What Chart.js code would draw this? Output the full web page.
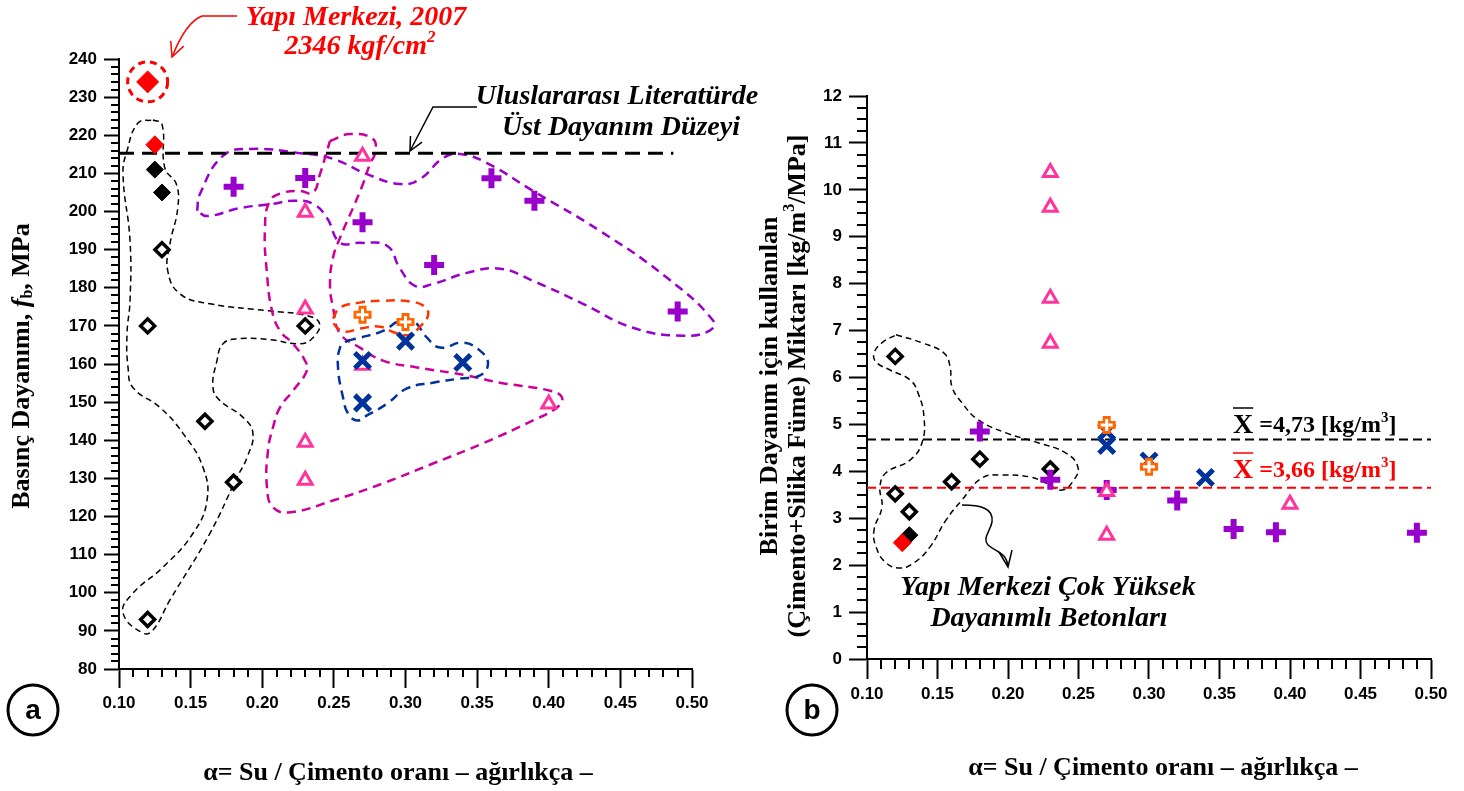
<!DOCTYPE html>
<html>
<head>
<meta charset="utf-8">
<script src="https://cdn.jsdelivr.net/npm/chart.js@4.4.1/dist/chart.umd.min.js"></script>
<style>
  html, body { margin: 0; padding: 0; background: #fff; }
  #kutuA { position: absolute; left: 0; top: 0; width: 800px; height: 791px; }
  #kutuB { position: absolute; left: 740px; top: 0; width: 724px; height: 791px; }
</style>
</head>
<body>
<div id="kutuA"><canvas id="grafikA" width="800" height="791"></canvas></div>
<div id="kutuB"><canvas id="grafikB" width="724" height="791"></canvas></div>
<script>
// ---- a) Basınç dayanımı verileri ----
const kirmiziA_x = [0.12, 0.125];
const kirmiziA_y = [234, 217.5];
const siyahDoluA_x = [0.125, 0.13];
const siyahDoluA_y = [211, 205];
const siyahBosA_x = [0.13, 0.12, 0.23, 0.16, 0.18, 0.12];
const siyahBosA_y = [190, 170, 170, 145, 129, 93];
const morA_x = [0.18, 0.23, 0.27, 0.32, 0.36, 0.39, 0.49];
const morA_y = [206.5, 208.8, 197.2, 186, 208.7, 202.8, 173.8];
const pembeA_x = [0.27, 0.23, 0.23, 0.27, 0.23, 0.23, 0.40];
const pembeA_y = [214.5, 199.8, 174.4, 159.7, 139.5, 129.5, 149.5];
const turuncuA_x = [0.27, 0.30];
const turuncuA_y = [172.9, 171];
const maviA_x = [0.30, 0.27, 0.34, 0.27];
const maviA_y = [166, 160.9, 160.4, 149.8];
const ustDuzey = 215.3;
const ustDuzeyBitis = 0.487;

// ---- b) Birim dayanım için malzeme miktarı ----
const kirmiziB_x = [0.125];
const kirmiziB_y = [2.48];
const siyahDoluB_x = [0.13];
const siyahDoluB_y = [2.64];
const siyahBosB_x = [0.12, 0.12, 0.13, 0.16, 0.18, 0.23];
const siyahBosB_y = [6.45, 3.52, 3.14, 3.78, 4.26, 4.05];
const morB_x = [0.18, 0.23, 0.27, 0.32, 0.36, 0.39, 0.49];
const morB_y = [4.85, 3.82, 3.6, 3.38, 2.77, 2.70, 2.69];
const pembeB_x = [0.23, 0.23, 0.23, 0.23, 0.27, 0.27, 0.40];
const pembeB_y = [10.37, 9.63, 7.69, 6.73, 3.57, 2.64, 3.30];
const turuncuB_x = [0.27, 0.30];
const turuncuB_y = [4.99, 4.10];
const maviB_x = [0.27, 0.27, 0.30, 0.34];
const maviB_y = [4.85, 4.55, 4.22, 3.87];
const ortalamaSiyah = 4.68;
const ortalamaKirmizi = 3.65;

// ---- eksen ve etiketler ----
const xEtiketleri = ["0.10", "0.15", "0.20", "0.25", "0.30", "0.35", "0.40", "0.45", "0.50"];

// ---- elle çizilmiş kesikli gruplar (veri koordinatlarında) ----
const grupSiyahA = [[0.1237,224.0],[0.130,222.9],[0.132,211.4],[0.140,207.2],[0.141,200.9],[0.1356,191.5],[0.134,184.5],[0.1426,178.4],[0.1635,175.8],[0.203,174.0],[0.231,172.7],[0.240,170.6],[0.2354,166.9],[0.2263,165.3],[0.2054,166.4],[0.1824,166.6],[0.1726,165.3],[0.1684,160.9],[0.1656,153.8],[0.1705,150.4],[0.1866,146.0],[0.1935,141.8],[0.1894,135.5],[0.1824,130.3],[0.1635,115.6],[0.1356,98.1],[0.1237,90.2],[0.1168,89.4],[0.1028,94.7],[0.1098,99.9],[0.1307,106.7],[0.1517,115.6],[0.1614,124.2],[0.1586,132.9],[0.1447,141.8],[0.1286,148.6],[0.1098,153.8],[0.1063,159.1],[0.1056,168.0],[0.1077,176.6],[0.1077,192.3],[0.1028,209.8],[0.1056,215.9],[0.1133,223.2]];
const grupMorA = [[0.1545,200.2],[0.1565,204.6],[0.1726,214.6],[0.1914,216.4],[0.2264,215.3],[0.2494,213.8],[0.2731,209.8],[0.2962,207.2],[0.3101,208.5],[0.3262,214.0],[0.3380,215.1],[0.3569,212.7],[0.3890,205.4],[0.4358,194.9],[0.4826,182.6],[0.5147,171.4],[0.5126,168.8],[0.4937,167.4],[0.4588,169.5],[0.4239,175.8],[0.3890,181.8],[0.3660,185.0],[0.3429,183.9],[0.3192,181.0],[0.3066,180.5],[0.2962,185.0],[0.2871,191.0],[0.2682,191.8],[0.2543,191.8],[0.2452,198.3],[0.2354,202.0],[0.2215,202.8],[0.2075,202.0],[0.1845,200.9],[0.1614,198.8]];
const grupPembeA = [[0.2473,218.5],[0.2613,220.3],[0.2773,219.0],[0.2787,215.3],[0.2752,212.5],[0.2703,207.2],[0.2633,200.9],[0.2543,193.1],[0.2494,187.9],[0.2473,181.0],[0.2494,174.8],[0.2543,168.0],[0.2682,164.3],[0.2843,160.9],[0.3080,159.1],[0.3429,157.0],[0.3660,155.1],[0.4009,153.0],[0.4093,151.2],[0.4058,148.6],[0.3890,145.2],[0.3541,139.2],[0.3192,133.9],[0.2843,128.7],[0.2494,124.2],[0.2194,121.1],[0.2075,122.4],[0.2033,127.6],[0.2040,137.3],[0.2075,143.4],[0.2124,148.6],[0.2215,153.0],[0.2312,158.3],[0.2298,160.9],[0.2215,165.3],[0.2124,168.7],[0.2068,174.0],[0.2033,183.7],[0.2019,195.7],[0.2054,202.8],[0.2145,204.9],[0.2264,205.4],[0.2354,204.9],[0.2403,209.8],[0.2452,215.9]];
const grupTuruncuA = [[0.2494,171.9],[0.2543,174.8],[0.2682,176.1],[0.2843,176.6],[0.3031,176.4],[0.3136,175.0],[0.3157,172.7],[0.3101,169.8],[0.3031,167.7],[0.2927,168.2],[0.2822,169.8],[0.2682,169.3],[0.2578,168.5],[0.2508,170.1]];
const grupMaviA = [[0.2592,166.1],[0.2682,166.9],[0.2843,168.7],[0.2962,171.4],[0.3052,171.4],[0.3150,166.9],[0.3241,164.3],[0.3401,165.6],[0.3520,163.5],[0.3576,160.1],[0.3520,157.0],[0.3380,156.2],[0.3192,155.1],[0.3010,153.6],[0.2871,149.6],[0.2731,146.5],[0.2661,145.2],[0.2599,147.0],[0.2564,151.2],[0.2529,159.1],[0.2543,164.3]];
const grupSiyahB = [[0.1206,6.91],[0.1390,6.74],[0.1546,6.52],[0.1589,6.23],[0.1603,5.80],[0.1674,5.46],[0.1787,5.10],[0.1986,4.82],[0.2213,4.61],[0.2411,4.39],[0.2496,4.09],[0.2468,3.82],[0.2383,3.60],[0.2270,3.75],[0.2156,3.88],[0.1957,3.92],[0.1816,3.86],[0.1674,3.39],[0.1560,2.96],[0.1447,2.39],[0.1333,2.05],[0.1234,1.94],[0.1135,2.05],[0.1064,2.39],[0.1050,2.75],[0.1106,3.24],[0.1092,3.67],[0.1135,3.97],[0.1305,4.24],[0.1390,4.61],[0.1404,5.16],[0.1362,5.67],[0.1305,5.95],[0.1163,6.16],[0.1064,6.33],[0.1050,6.52],[0.1106,6.74]];

const SERIF = "'Liberation Serif', 'Times New Roman', serif";
const SANS = "'Liberation Sans', Arial, sans-serif";
const BASLIK = "bold 26px " + SERIF;
const NOT_FONT = "italic bold 28px " + SERIF;

function noktalar(xs, ys) {
  return xs.map((x, i) => ({ x: x, y: ys[i] }));
}

function halka(dizi) {
  // kapalı eğri: ilk noktayı sona ekle
  const p = dizi.map((d) => ({ x: d[0], y: d[1] }));
  p.push({ x: dizi[0][0], y: dizi[0][1] });
  return p;
}

function isaret(veri, stil, r, renk, dolgu, kalinlik) {
  return {
    data: veri,
    pointStyle: stil,
    pointRadius: r,
    borderColor: renk,
    backgroundColor: dolgu,
    pointBorderWidth: kalinlik,
    borderWidth: kalinlik,
    showLine: false,
  };
}

function cizgi(veri, renk, kalinlik, kesik, egri) {
  return {
    data: veri,
    showLine: true,
    pointRadius: 0,
    borderColor: renk,
    borderWidth: kalinlik,
    borderDash: kesik,
    backgroundColor: "transparent",
    fill: false,
    tension: egri ? 0.45 : 0,
    clip: false,
  };
}

function yaziParcalari(ctx, parcalar, x, y, hiza) {
  let toplam = 0;
  parcalar.forEach((p) => {
    ctx.font = p.f;
    p.w = ctx.measureText(p.t).width;
    toplam += p.w;
  });
  let cx = hiza === "center" ? x - toplam / 2 : x;
  ctx.textAlign = "left";
  ctx.textBaseline = "middle";
  parcalar.forEach((p) => {
    ctx.font = p.f;
    ctx.fillText(p.t, cx, y + (p.dy || 0));
    cx += p.w;
  });
  return toplam;
}

function okUcu(ctx, x, y, aci, boy) {
  ctx.beginPath();
  ctx.moveTo(x + Math.cos(aci + 0.45) * boy, y + Math.sin(aci + 0.45) * boy);
  ctx.lineTo(x, y);
  ctx.lineTo(x + Math.cos(aci - 0.45) * boy, y + Math.sin(aci - 0.45) * boy);
  ctx.stroke();
}

// ara çentikler (küçük tikler)
function araCentikler(chart, xAdim, xBas, xSon, yAdim, yBas, ySon, xBoy, yBoy, xAna, yAna) {
  const ctx = chart.ctx;
  const sx = chart.scales.x, sy = chart.scales.y;
  ctx.save();
  ctx.strokeStyle = "#000";
  ctx.lineWidth = 2;
  ctx.beginPath();
  for (let i = xBas; i <= xSon; i++) {
    if (i % xAna === 0) continue;
    const px = Math.round(sx.getPixelForValue(i * xAdim));
    ctx.moveTo(px, sy.bottom);
    ctx.lineTo(px, sy.bottom + xBoy);
  }
  for (let j = yBas; j <= ySon; j++) {
    if (j % yAna === 0) continue;
    const py = Math.round(sy.getPixelForValue(j * yAdim));
    ctx.moveTo(sx.left, py);
    ctx.lineTo(sx.left - yBoy, py);
  }
  ctx.stroke();
  ctx.restore();
}

function daire(ctx, x, y, harf) {
  ctx.save();
  ctx.strokeStyle = "#000";
  ctx.lineWidth = 3;
  ctx.beginPath();
  ctx.arc(x, y, 25, 0, Math.PI * 2);
  ctx.stroke();
  ctx.fillStyle = "#000";
  ctx.font = "bold 28px " + SANS;
  ctx.textAlign = "center";
  ctx.textBaseline = "middle";
  ctx.fillText(harf, x, y + 1);
  ctx.restore();
}

function olcekler(xMin, xMax, yMin, yMax, yAdim, yGenislik, xYukseklik, yTik, xTik) {
  const font = { family: SANS, size: 17, weight: "bold" };
  return {
    x: {
      type: "linear",
      min: xMin,
      max: xMax,
      ticks: {
        stepSize: 0.05,
        autoSkip: false,
        maxRotation: 0,
        color: "#000",
        font: font,
        padding: 5,
        callback: (v, i) => xEtiketleri[i],
      },
      grid: { display: true, drawOnChartArea: false, drawTicks: true, tickLength: xTik, tickWidth: 2, tickColor: "#000" },
      border: { display: true, color: "#000", width: 2 },
      afterFit: (s) => { s.height = xYukseklik; },
    },
    y: {
      type: "linear",
      min: yMin,
      max: yMax,
      ticks: { stepSize: yAdim, color: "#000", font: font, padding: 7 },
      grid: { display: true, drawOnChartArea: false, drawTicks: true, tickLength: yTik, tickWidth: 2, tickColor: "#000" },
      border: { display: true, color: "#000", width: 2 },
      afterFit: (s) => { s.width = yGenislik; },
    },
  };
}

// ================= Grafik a =================
const eklentiA = {
  id: "eklentiA",
  afterDraw(chart) {
    const ctx = chart.ctx;
    const sx = chart.scales.x, sy = chart.scales.y;
    araCentikler(chart, 0.01, 10, 50, 2, 40, 120, 8, 8, 5, 5);

    // Yapı Merkezi 2007 işaretinin etrafındaki kesikli daire
    ctx.save();
    ctx.strokeStyle = "#FF0000";
    ctx.lineWidth = 3;
    ctx.setLineDash([7, 5]);
    ctx.beginPath();
    ctx.arc(sx.getPixelForValue(kirmiziA_x[0]), sy.getPixelForValue(kirmiziA_y[0]), 20, 0, Math.PI * 2);
    ctx.stroke();
    ctx.restore();

    // kırmızı açıklama ve ok
    ctx.save();
    ctx.fillStyle = "#FF0000";
    yaziParcalari(ctx, [{ t: "Yapı Merkezi, 2007", f: NOT_FONT }], 356, 18, "center");
    yaziParcalari(ctx, [
      { t: "2346 kgf/cm", f: NOT_FONT },
      { t: "2", f: "italic bold 17px " + SERIF, dy: -9 },
    ], 360, 47, "center");
    ctx.strokeStyle = "#FF0000";
    ctx.lineWidth = 1.5;
    ctx.beginPath();
    ctx.moveTo(237, 16);
    ctx.lineTo(202, 16);
    ctx.quadraticCurveTo(186, 22, 172, 57);
    ctx.stroke();
    okUcu(ctx, 172, 57, -1.2, 16);
    ctx.restore();

    // uluslararası literatür açıklaması
    ctx.save();
    ctx.fillStyle = "#000";
    yaziParcalari(ctx, [{ t: "Uluslararası Literatürde", f: NOT_FONT }], 617, 97, "center");
    yaziParcalari(ctx, [{ t: "Üst Dayanım Düzeyi", f: NOT_FONT }], 621, 128, "center");
    ctx.strokeStyle = "#000";
    ctx.lineWidth = 1.5;
    ctx.beginPath();
    ctx.moveTo(477, 107);
    ctx.lineTo(433, 107);
    ctx.lineTo(410, 151);
    ctx.stroke();
    okUcu(ctx, 410, 151, -1.09, 15);
    ctx.restore();

    // eksen başlıkları
    ctx.save();
    ctx.fillStyle = "#000";
    yaziParcalari(ctx, [{ t: "α= Su / Çimento oranı – ağırlıkça –", f: BASLIK }], 398, 773, "center");
    ctx.translate(22, 366);
    ctx.rotate(-Math.PI / 2);
    yaziParcalari(ctx, [
      { t: "Basınç Dayanımı, ", f: BASLIK },
      { t: "f", f: "italic bold 26px " + SERIF },
      { t: "b", f: "bold 16px " + SERIF, dy: 6 },
      { t: ", MPa", f: BASLIK },
    ], 0, 0, "center");
    ctx.restore();

    daire(ctx, 33, 710, "a");
  },
};

new Chart(document.getElementById("grafikA"), {
  type: "scatter",
  data: {
    datasets: [
      isaret(noktalar(kirmiziA_x, kirmiziA_y), "rectRot", [11, 9], "#FF0000", "#FF0000", 1),
      isaret(noktalar(turuncuA_x, turuncuA_y), "cross", 6, "#FFFFFF", "#FFFFFF", 3),
      isaret(noktalar(turuncuA_x, turuncuA_y), "cross", 9, "#FF6600", "#FF6600", 8),
      isaret(noktalar(maviA_x, maviA_y), "crossRot", 11, "#003399", "#003399", 5),
      isaret(noktalar(pembeA_x, pembeA_y), "triangle", 8, "#FF3399", "#FFFFFF", 3),
      isaret(noktalar(morA_x, morA_y), "cross", 10, "#9900CC", "#9900CC", 6),
      isaret(noktalar(siyahDoluA_x, siyahDoluA_y), "rectRot", 8.5, "#000", "#000", 1),
      isaret(noktalar(siyahBosA_x, siyahBosA_y), "rectRot", 7, "#000", "#FFFFFF", 3.5),
      cizgi([{ x: 0.10, y: ustDuzey }, { x: ustDuzeyBitis, y: ustDuzey }], "#000", 3, [15, 8], false),
      cizgi(halka(grupTuruncuA), "#FF3300", 2.5, [9, 6], true),
      cizgi(halka(grupMaviA), "#003399", 2.5, [9, 6], true),
      cizgi(halka(grupPembeA), "#CC0099", 2.5, [9, 6], true),
      cizgi(halka(grupMorA), "#9900CC", 2.5, [9, 6], true),
      cizgi(halka(grupSiyahA), "#000", 1.5, [6, 4], true),
    ],
  },
  options: {
    responsive: false,
    animation: false,
    events: [],
    layout: { padding: { top: 59, right: 108, left: 0, bottom: 0 } },
    plugins: { legend: { display: false }, tooltip: { enabled: false } },
    scales: olcekler(0.10, 0.50, 80, 240, 10, 119, 122, 15, 19),
  },
  plugins: [eklentiA],
});

// ================= Grafik b =================
const eklentiB = {
  id: "eklentiB",
  afterDraw(chart) {
    const ctx = chart.ctx;
    araCentikler(chart, 0.01, 10, 50, 0.25, 0, 48, 10, 10, 5, 4);

    // ortalama etiketleri
    ctx.save();
    const ortalamaYazisi = (renk, metin, y) => {
      ctx.fillStyle = renk;
      ctx.strokeStyle = renk;
      const w = yaziParcalari(ctx, [{ t: "X", f: "bold 28px " + SERIF }], 493, y, "left");
      ctx.lineWidth = 1.5;
      ctx.beginPath();
      ctx.moveTo(493, y - 18);
      ctx.lineTo(493 + w, y - 18);
      ctx.stroke();
      yaziParcalari(ctx, [
        { t: " =" + metin + " [kg/m", f: "bold 24px " + SERIF },
        { t: "3", f: "bold 15px " + SERIF, dy: -8 },
        { t: "]", f: "bold 24px " + SERIF },
      ], 493 + w, y, "left");
    };
    ortalamaYazisi("#000", "4,73", 426);
    ortalamaYazisi("#FF0000", "3,66", 471);
    ctx.restore();

    // Yapı Merkezi açıklaması ve kıvrık ok
    ctx.save();
    ctx.fillStyle = "#000";
    yaziParcalari(ctx, [{ t: "Yapı Merkezi Çok Yüksek", f: NOT_FONT }], 308, 588, "center");
    yaziParcalari(ctx, [{ t: "Dayanımlı Betonları", f: NOT_FONT }], 309, 619, "center");
    ctx.strokeStyle = "#000";
    ctx.lineWidth = 1.5;
    ctx.beginPath();
    ctx.moveTo(222, 505);
    ctx.bezierCurveTo(240, 505, 254, 508, 252, 522);
    ctx.bezierCurveTo(250, 532, 242, 538, 248, 545);
    ctx.bezierCurveTo(256, 552, 266, 552, 268, 566);
    ctx.stroke();
    ctx.beginPath();
    ctx.moveTo(259, 552);
    ctx.lineTo(268, 567);
    ctx.lineTo(272, 550);
    ctx.stroke();
    ctx.restore();

    // eksen başlıkları
    ctx.save();
    ctx.fillStyle = "#000";
    yaziParcalari(ctx, [{ t: "α= Su / Çimento oranı – ağırlıkça –", f: BASLIK }], 423, 768, "center");
    ctx.translate(30, 386);
    ctx.rotate(-Math.PI / 2);
    yaziParcalari(ctx, [{ t: "Birim Dayanım için kullanılan", f: BASLIK }], 0, 0, "center");
    yaziParcalari(ctx, [
      { t: "(Çimento+Silika Füme) Miktarı [kg/m", f: BASLIK },
      { t: "3", f: "bold 16px " + SERIF, dy: -8 },
      { t: "/MPa]", f: BASLIK },
    ], 0, 28, "center");
    ctx.restore();

    daire(ctx, 72, 710, "b");
  },
};

new Chart(document.getElementById("grafikB"), {
  type: "scatter",
  data: {
    datasets: [
      isaret(noktalar(kirmiziB_x, kirmiziB_y), "rectRot", 9, "#FF0000", "#FF0000", 1),
      isaret(noktalar(turuncuB_x, turuncuB_y), "cross", 6, "#FFFFFF", "#FFFFFF", 3),
      isaret(noktalar(turuncuB_x, turuncuB_y), "cross", 9, "#FF6600", "#FF6600", 8),
      isaret(noktalar(pembeB_x, pembeB_y), "triangle", 8, "#FF3399", "#FFFFFF", 3),
      isaret(noktalar(maviB_x, maviB_y), "crossRot", 11, "#003399", "#003399", 5),
      isaret(noktalar(morB_x, morB_y), "cross", 10, "#9900CC", "#9900CC", 6),
      isaret(noktalar(siyahDoluB_x, siyahDoluB_y), "rectRot", 8.5, "#000", "#000", 1),
      isaret(noktalar(siyahBosB_x, siyahBosB_y), "rectRot", 7, "#000", "#FFFFFF", 3.5),
      cizgi([{ x: 0.10, y: ortalamaSiyah }, { x: 0.50, y: ortalamaSiyah }], "#000", 2, [9, 5], false),
      cizgi([{ x: 0.10, y: ortalamaKirmizi }, { x: 0.50, y: ortalamaKirmizi }], "#FF0000", 2, [9, 5], false),
      cizgi(halka(grupSiyahB), "#000", 1.5, [6, 4], true),
    ],
  },
  options: {
    responsive: false,
    animation: false,
    events: [],
    layout: { padding: { top: 96, right: 33, left: 0, bottom: 0 } },
    plugins: { legend: { display: false }, tooltip: { enabled: false } },
    scales: olcekler(0.10, 0.50, 0, 12, 1, 127, 132, 18, 20),
  },
  plugins: [eklentiB],
});
</script>
</body>
</html>
